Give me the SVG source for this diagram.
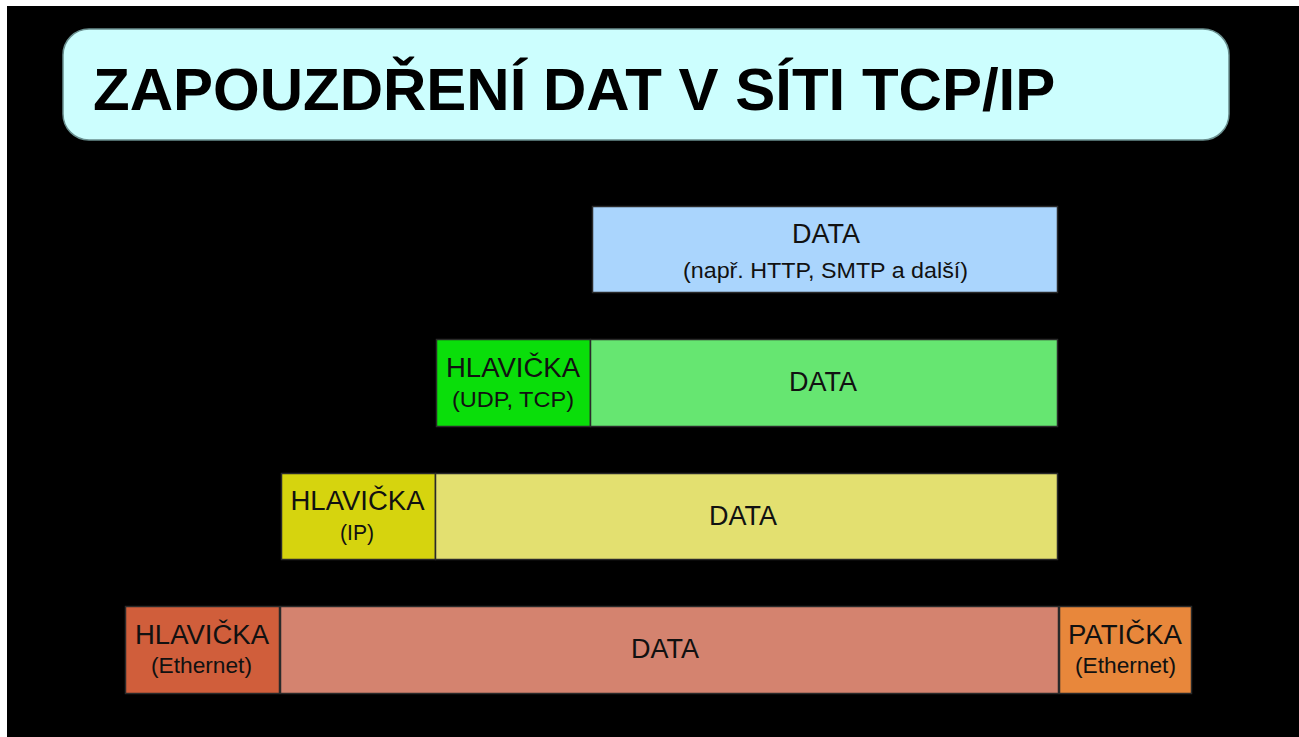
<svg xmlns="http://www.w3.org/2000/svg" width="1299" height="737" viewBox="0 0 1299 737">
<style>
.box{stroke:#2a2a2a;stroke-width:1.5}
.big{font-family:"Liberation Sans",Arial,sans-serif;font-size:27px;fill:#111;text-anchor:middle}
.small{font-family:"Liberation Sans",Arial,sans-serif;font-size:21.5px;fill:#111;text-anchor:middle}
.title{font-family:"Liberation Sans",Arial,sans-serif;font-size:60px;font-weight:bold;fill:#000}
</style>
<rect x="0" y="0" width="1299" height="737" fill="#ffffff"/>
<rect x="7" y="6" width="1292" height="731" fill="#000000"/>
<g id="title">
<rect x="63" y="29" width="1166" height="111" rx="26" ry="26" fill="#ccfefe" stroke="#6a8f8f" stroke-width="1.5"/>
<text class="title" x="93" y="110">ZAPOUZDŘENÍ DAT V SÍTI TCP/IP</text>
</g>
<g id="app-data">
<rect class="box" x="592.500" y="206.500" width="465" height="86" fill="#aad5fd"/>
<text class="big" x="826" y="243" textLength="68" lengthAdjust="spacingAndGlyphs">DATA</text>
<text class="small" x="825.500" y="278" textLength="285" lengthAdjust="spacingAndGlyphs">(např. HTTP, SMTP a další)</text>
</g>
<g id="transport-header">
<rect class="box" x="436.500" y="339.500" width="154" height="87" fill="#0ade0a"/>
<text class="big" x="513" y="377" textLength="134" lengthAdjust="spacingAndGlyphs">HLAVIČKA</text>
<text class="small" x="513" y="407" textLength="122" lengthAdjust="spacingAndGlyphs">(UDP, TCP)</text>
</g>
<g id="transport-data">
<rect class="box" x="590.500" y="339.500" width="467" height="87" fill="#66e671"/>
<text class="big" x="823" y="390.500" textLength="68" lengthAdjust="spacingAndGlyphs">DATA</text>
</g>
<g id="ip-header">
<rect class="box" x="281.500" y="473.500" width="154" height="86" fill="#d6d40e"/>
<text class="big" x="357.500" y="510" textLength="134" lengthAdjust="spacingAndGlyphs">HLAVIČKA</text>
<text class="small" x="357" y="540" textLength="34" lengthAdjust="spacingAndGlyphs">(IP)</text>
</g>
<g id="ip-data">
<rect class="box" x="435.500" y="473.500" width="622" height="86" fill="#e3e070"/>
<text class="big" x="743" y="524.500" textLength="68" lengthAdjust="spacingAndGlyphs">DATA</text>
</g>
<g id="eth-header">
<rect class="box" x="125.500" y="606.500" width="154" height="87" fill="#d05e3b"/>
<text class="big" x="202" y="644" textLength="134" lengthAdjust="spacingAndGlyphs">HLAVIČKA</text>
<text class="small" x="201.500" y="673" textLength="101" lengthAdjust="spacingAndGlyphs">(Ethernet)</text>
</g>
<g id="eth-data">
<rect class="box" x="280.500" y="606.500" width="778" height="87" fill="#d4836f"/>
<text class="big" x="665" y="657.500" textLength="68" lengthAdjust="spacingAndGlyphs">DATA</text>
</g>
<g id="eth-footer">
<rect class="box" x="1059.500" y="606.500" width="132" height="87" fill="#e8873b"/>
<text class="big" x="1125" y="644" textLength="114" lengthAdjust="spacingAndGlyphs">PATIČKA</text>
<text class="small" x="1125.500" y="673" textLength="101" lengthAdjust="spacingAndGlyphs">(Ethernet)</text>
</g>
<g id="connectors"/>
</svg>
